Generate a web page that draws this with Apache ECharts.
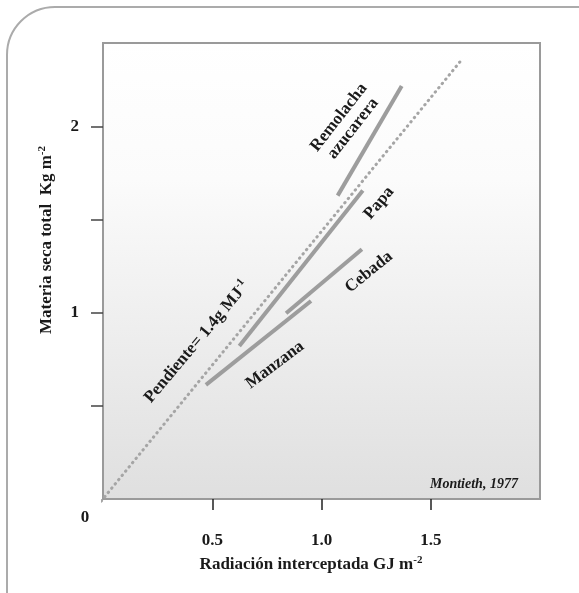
<!DOCTYPE html>
<html><head><meta charset="utf-8">
<script src="https://cdn.jsdelivr.net/npm/echarts@6/dist/echarts.min.js"></script>
<style>html,body{margin:0;padding:0;background:#fff}#c{width:579px;height:593px}</style>
</head><body><div id="c"></div>
<script>
// Tick values
const xTicks = [0.5, 1.0, 1.5];
const yTicks = [0.5, 1, 1.5, 2];
const yLabels = [1, 2];
// Series (x: GJ m-2, y: Kg m-2)
const slopeLine = [[-0.04, -0.057], [1.633, 2.348]];
const remolacha = [[1.074, 1.630], [1.367, 2.219]];
const papa = [[0.624, 0.822], [1.189, 1.657]];
const cebada = [[0.838, 0.998], [1.185, 1.342]];
const manzana = [[0.471, 0.613], [0.952, 1.064]];

const FONT = '"Liberation Serif", "Times New Roman", serif';
const chart = echarts.init(document.getElementById('c'), null, {renderer: 'canvas'});

function seg(name, data) {
  return {name, type: 'line', data, symbol: 'none', silent: true,
    lineStyle: {color: '#9d9d9d', width: 4, cap: 'butt'}, z: 3};
}
function txt(text, x, y, deg, size, extra) {
  return Object.assign({type: 'text', x, y, rotation: deg * Math.PI / 180, silent: true, z: 50,
    style: {text, x: 0, y: 0, align: 'center', verticalAlign: 'middle',
      font: 'bold ' + size + 'px ' + FONT, fill: '#1a1a1a', lineHeight: 18,
      rich: {
        n: {font: 'bold ' + size + 'px ' + FONT, fill: '#1a1a1a'},
        s: {font: 'bold ' + Math.round(size * 0.62) + 'px ' + FONT, fill: '#1a1a1a', padding: [0, 0, 10, 0]}
      }}}, extra || {});
}

const option = {
  animation: false,
  grid: {left: 103, top: 43, right: 39, bottom: 94, show: true,
    borderColor: '#9a9a9a', borderWidth: 2,
    backgroundColor: new echarts.graphic.LinearGradient(0, 0, 0, 1, [
      {offset: 0, color: '#ffffff'}, {offset: 0.3, color: '#fbfbfb'}, {offset: 1, color: '#dfdfdf'}])},
  xAxis: {type: 'value', min: 0, max: 2, interval: 0.5,
    splitLine: {show: false},
    axisLine: {show: true, lineStyle: {color: '#9a9a9a', width: 2}},
    axisTick: {show: true, customValues: xTicks, length: 11, lineStyle: {color: '#222', width: 1.5}},
    axisLabel: {customValues: xTicks, formatter: v => v.toFixed(1), margin: 33,
      fontFamily: FONT, fontWeight: 'bold', fontSize: 17, color: '#1a1a1a'}},
  yAxis: {type: 'value', min: 0, max: 2.45, interval: 0.5,
    splitLine: {show: false},
    axisLine: {show: true, lineStyle: {color: '#9a9a9a', width: 2}},
    axisTick: {show: true, customValues: yTicks, length: 12, lineStyle: {color: '#444', width: 1.5}},
    axisLabel: {customValues: yLabels, formatter: v => String(v), margin: 24,
      fontFamily: FONT, fontWeight: 'bold', fontSize: 17, color: '#1a1a1a'}},
  series: [
    {name: 'Pendiente', type: 'line', data: slopeLine, symbol: 'none', silent: true, clip: false, z: 2,
      lineStyle: {color: '#a5a5a5', width: 3, type: [0.5, 5], cap: 'round'}},
    seg('Remolacha azucarera', remolacha),
    seg('Papa', papa),
    seg('Cebada', cebada),
    seg('Manzana', manzana)
  ],
  graphic: [
    {type: 'rect', silent: true, z: 0, shape: {x: 7, y: 7, width: 900, height: 900, r: 48},
      style: {fill: 'none', stroke: '#ababab', lineWidth: 2}},
    txt('0', 85, 518, 0, 17),
    txt('{n|Materia seca total  Kg m}{s|-2}', 47, 240, 90, 17),
    txt('{n|Radiación interceptada GJ m}{s|-2}', 311, 565, 0, 17),
    txt('Remolacha\nazucarera', 346, 123, 52, 17),
    txt('Papa', 379, 203, 50, 17),
    txt('Cebada', 369, 272, 39, 17),
    txt('Manzana', 275, 365, 37, 17),
    txt('{n|Pendiente= 1.4g MJ}{s|-1}', 197, 342, 50, 17),
    {type: 'text', x: 430, y: 484, silent: true, z: 50,
      style: {text: 'Montieth, 1977', x: 0, y: 0, align: 'left', verticalAlign: 'middle',
        font: 'italic bold 14px ' + FONT, fill: '#1a1a1a'}}
  ]
};
chart.setOption(option);
</script>
</body></html>
